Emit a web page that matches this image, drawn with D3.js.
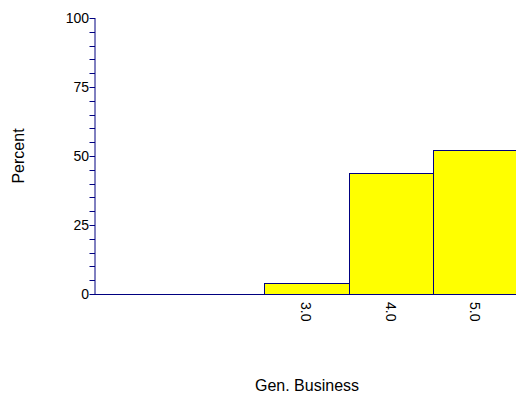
<!DOCTYPE html>
<html><head><meta charset="utf-8">
<script src="https://cdn.jsdelivr.net/npm/d3@7"></script>
<style>body{margin:0;background:#fff}svg{display:block}text{font-family:"Liberation Sans",Arial,sans-serif;fill:#000}</style>
</head><body>
<script>
const categories = [1, 2, 3, 4, 5];
const percents = [0, 0, 4, 44, 52];
const xTickValues = [3, 4, 5];
const yMajorTicks = [0, 25, 50, 75, 100];
const yMinorTicks = d3.range(0, 101, 5);
const xTitle = "Gen. Business";
const yTitle = "Percent";

const W = 516, H = 399;
const svg = d3.select("body").append("svg").attr("width", W).attr("height", H);
const axisColor = "#000080";

const x = d3.scaleLinear().domain([0.5, 5.5]).range([95, 517.5]);
const y = d3.scaleLinear().domain([0, 100]).range([294, 18]);

// bars
svg.append("g").selectAll("rect")
  .data(categories.map((c, i) => ({c, v: percents[i]})).filter(d => d.v > 0))
  .join("rect")
  .attr("x", d => Math.round(x(d.c - 0.5)) + 0.5)
  .attr("width", d => Math.round(x(d.c + 0.5)) - Math.round(x(d.c - 0.5)))
  .attr("y", d => Math.round(y(d.v)) + 0.5)
  .attr("height", d => Math.round(y(0)) - Math.round(y(d.v)))
  .attr("fill", "#ffff00")
  .attr("stroke", axisColor)
  .attr("stroke-width", 1);

// y axis
const yAxisG = svg.append("g");
yAxisG.selectAll("line.minor").data(yMinorTicks).join("line")
  .attr("class", "minor")
  .attr("x1", 89.5).attr("x2", 95)
  .attr("y1", d => Math.round(y(d)) + 0.5).attr("y2", d => Math.round(y(d)) + 0.5)
  .attr("stroke", axisColor);
yAxisG.append("line").attr("x1", 95).attr("x2", 95).attr("y1", y(100)).attr("y2", y(0) + 0.5)
  .attr("stroke", axisColor);
yAxisG.selectAll("text").data(yMajorTicks).join("text")
  .attr("x", 89).attr("y", d => y(d)).attr("dy", "0.35em")
  .attr("text-anchor", "end").attr("font-size", 14).text(d => d);

// x axis line
svg.append("line").attr("x1", 95).attr("x2", W).attr("y1", 294.5).attr("y2", 294.5)
  .attr("stroke", axisColor);

// x tick labels (rotated)
svg.append("g").selectAll("text").data(xTickValues).join("text")
  .attr("transform", d => `translate(${x(d)},302) rotate(90)`)
  .attr("dy", "0.35em").attr("text-anchor", "start").attr("font-size", 14)
  .text(d => d3.format(".1f")(d));

// titles
svg.append("text").attr("x", 307).attr("y", 391).attr("text-anchor", "middle")
  .attr("font-size", 16).text(xTitle);
svg.append("text").attr("transform", "translate(24,156) rotate(-90)")
  .attr("text-anchor", "middle").attr("font-size", 16).text(yTitle);
</script>
</body></html>
